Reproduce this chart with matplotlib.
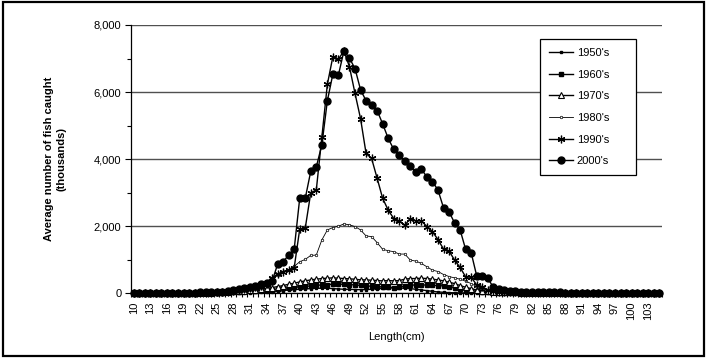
import matplotlib
matplotlib.use("Agg")
import matplotlib.pyplot as plt
from matplotlib.patches import Rectangle
from matplotlib.ticker import FuncFormatter, MultipleLocator

plt.rcParams['font.family'] = ['Liberation Sans', 'DejaVu Sans']

# Length classes (cm)
length_cm = list(range(10, 106))

# Average catch by decade (thousands of fish), one value per length class 10..105 cm
catch_1950s = [2, 2, 2, 2, 2, 3, 3, 3, 4, 4,
               5, 5, 6, 7, 8, 10, 12, 14, 16, 18,
               20, 22, 25, 28, 32, 40, 60, 80, 100, 110,
               120, 130, 140, 150, 150, 150, 140, 130, 120, 120,
               110, 110, 110, 120, 140, 150, 160, 160, 160, 150,
               140, 120, 100, 80, 60, 40, 30, 20, 15, 12,
               10, 8, 8, 7, 6, 6, 5, 5, 5, 4,
               4, 4, 4, 3, 3, 3, 3, 3, 3, 3,
               3, 2, 2, 2, 2, 2, 2, 2, 2, 2,
               2, 2, 2, 2, 2, 2]
catch_1960s = [5, 5, 5, 5, 6, 6, 6, 7, 7, 8,
               8, 9, 10, 12, 14, 20, 25, 30, 40, 50,
               60, 70, 80, 90, 100, 110, 130, 145, 160, 175,
               190, 205, 220, 235, 250, 260, 270, 270, 270, 260,
               250, 235, 220, 210, 200, 190, 180, 170, 190, 220,
               240, 250, 250, 245, 240, 230, 220, 190, 160, 130,
               100, 80, 60, 45, 30, 25, 20, 18, 16, 15,
               14, 13, 12, 12, 11, 11, 10, 10, 10, 9,
               9, 9, 8, 8, 8, 8, 7, 7, 7, 7,
               7, 6, 6, 6, 6, 6]
catch_1970s = [8, 8, 8, 8, 9, 9, 10, 10, 11, 12,
               13, 14, 15, 17, 20, 30, 40, 50, 60, 70,
               80, 90, 100, 120, 150, 170, 200, 230, 270, 300,
               340, 370, 400, 420, 440, 450, 460, 450, 440, 430,
               420, 400, 400, 390, 380, 370, 380, 370, 380, 420,
               440, 440, 450, 440, 420, 400, 370, 330, 290, 230,
               180, 140, 100, 80, 60, 40, 30, 28, 26, 24,
               22, 20, 19, 18, 17, 16, 15, 14, 14, 13,
               13, 12, 12, 12, 11, 11, 11, 10, 10, 10,
               10, 9, 9, 9, 9, 9]
catch_1980s = [5, 5, 6, 6, 7, 7, 8, 8, 9, 10,
               11, 12, 13, 14, 15, 20, 30, 40, 60, 80,
               110, 140, 180, 230, 300, 400, 560, 640, 700, 800,
               940, 1010, 1130, 1140, 1590, 1890, 1960, 2000, 2070, 2040,
               1990, 1890, 1710, 1690, 1510, 1310, 1270, 1240, 1170, 1170,
               990, 960, 890, 790, 690, 650, 560, 500, 460, 420,
               360, 290, 200, 150, 100, 70, 50, 40, 30, 25,
               22, 20, 18, 17, 16, 15, 14, 13, 12, 12,
               11, 11, 10, 10, 10, 9, 9, 9, 8, 8,
               8, 8, 7, 7, 7, 7]
catch_1990s = [6, 6, 7, 7, 8, 8, 9, 10, 11, 12,
               13, 14, 15, 17, 20, 30, 40, 50, 70, 90,
               120, 150, 190, 230, 280, 450, 580, 650, 700, 760,
               1910, 1940, 3000, 3080, 4650, 6230, 7060, 6980, 7230, 6750,
               5960, 5210, 4170, 4020, 3430, 2830, 2480, 2230, 2160, 2030,
               2230, 2160, 2160, 1990, 1840, 1600, 1320, 1260, 990, 770,
               490, 480, 250, 200, 100, 70, 50, 40, 30, 25,
               22, 20, 19, 18, 17, 16, 15, 14, 13, 12,
               12, 11, 11, 10, 10, 10, 9, 9, 9, 8,
               8, 8, 8, 7, 7, 7]
catch_2000s = [10, 10, 10, 10, 10, 10, 12, 12, 15, 15,
               20, 20, 25, 30, 35, 40, 50, 70, 90, 120,
               160, 200, 230, 280, 300, 360, 860, 940, 1140, 1310,
               2830, 2830, 3640, 3770, 4420, 5740, 6540, 6510, 7230, 7010,
               6700, 6070, 5740, 5600, 5450, 5050, 4620, 4290, 4120, 3940,
               3790, 3620, 3700, 3470, 3330, 3080, 2550, 2430, 2100, 1890,
               1310, 1210, 520, 520, 450, 180, 120, 100, 80, 60,
               50, 45, 40, 35, 30, 30, 25, 25, 20, 20,
               20, 15, 15, 15, 12, 12, 10, 10, 10, 10,
               10, 8, 8, 8, 8, 8]

decade_labels = ["1950's", "1960's", "1970's", "1980's", "1990's", "2000's"]
x_tick_values = list(range(10, 106, 3))

fig = plt.figure(figsize=(7.07, 3.60), dpi=100)
ax = fig.add_axes([131 / 707, 1 - 293.3 / 360, 531 / 707, 268.3 / 360])

star = (6, 2, 0)
styles = [
    dict(marker='s', ms=1.6, lw=1.0, mfc='black', mec='black'),
    dict(marker='s', ms=3.2, lw=1.0, mfc='black', mec='black'),
    dict(marker='^', ms=4.2, lw=1.0, mfc='white', mec='black', mew=0.8),
    dict(marker='o', ms=1.8, lw=0.6, mfc='white', mec='black', mew=0.5),
    dict(marker=star, ms=5.5, lw=1.0, mfc='black', mec='black', mew=0.9),
    dict(marker='o', ms=5.0, lw=1.0, mfc='black', mec='black'),
]
series = [catch_1950s, catch_1960s, catch_1970s, catch_1980s, catch_1990s, catch_2000s]
for vals, lab, st in zip(series, decade_labels, styles):
    ax.plot(length_cm, vals, color='black', label=lab, clip_on=False, zorder=3, **st)

ax.set_xlim(9.5, 105.5)
ax.set_ylim(0, 8000)

# Gridlines
ax.yaxis.set_major_locator(MultipleLocator(2000))
ax.yaxis.set_minor_locator(MultipleLocator(1000))
ax.grid(axis='y', which='major', color='#505050', lw=1.0, zorder=1)
ax.set_axisbelow(True)
ax.yaxis.set_major_formatter(FuncFormatter(lambda v, p: f"{int(v):,}"))

ax.set_xticks(x_tick_values)
ax.set_xticklabels([str(v) for v in x_tick_values], rotation=90)
ax.set_xticks([v - 0.5 for v in length_cm] + [105.5], minor=True)
ax.tick_params(axis='x', which='major', length=0, pad=6, labelsize=8)
ax.tick_params(axis='x', which='minor', length=3, width=0.8, direction='out')
ax.tick_params(axis='y', which='major', length=4, width=0.8, labelsize=8, pad=3)
ax.tick_params(axis='y', which='minor', length=3, width=0.8)

for s in ['top', 'right']:
    ax.spines[s].set_visible(False)
ax.spines['left'].set_linewidth(0.9)
ax.spines['bottom'].set_linewidth(0.9)

ax.set_ylabel("Average number of fish caught\n(thousands)", fontsize=8,
              fontweight='bold', linespacing=1.2)
ax.yaxis.set_label_coords(-(131 - 66) / 531, 0.5)
ax.set_xlabel("Length(cm)", fontsize=8)
ax.xaxis.set_label_coords(0.5, -(337 - 293.3) / 268.3)
ax.xaxis.label.set_va('center')

# Legend box spanning the upper right of the plot area
lx0 = (540 - 131) / 531
lx1 = (636 - 131) / 531
ly1 = (293.3 - 39) / 268.3
ly0 = (293.3 - 175) / 268.3
leg = ax.legend(loc='upper left', bbox_to_anchor=(lx0, ly0, lx1 - lx0, ly1 - ly0),
                mode='expand', fontsize=8,
                frameon=True, fancybox=False, edgecolor='black', framealpha=1,
                labelspacing=1.05, handlelength=2.2, handletextpad=0.3,
                borderpad=0.8, borderaxespad=0)
leg.get_frame().set_linewidth(0.9)

# Chart-area border
fig.patches.append(Rectangle((0.004, 0.012), 0.992, 0.983, transform=fig.transFigure,
                             fill=False, edgecolor='black', lw=1.6))

fig.savefig('out.png', dpi=100)
